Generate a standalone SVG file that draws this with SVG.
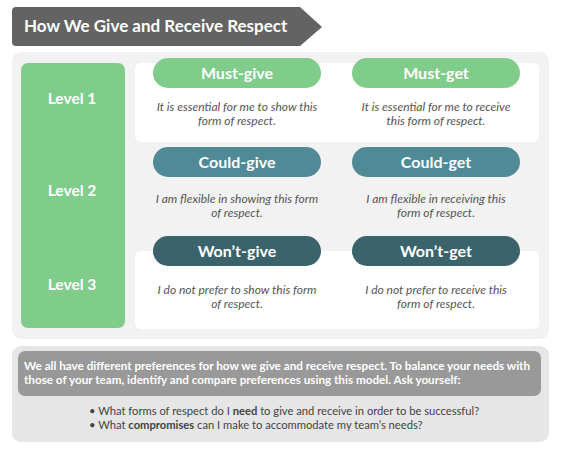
<svg xmlns="http://www.w3.org/2000/svg" width="561" height="449" viewBox="0 0 561 449">
<style>
.lvl{font-family:Lato,"Noto Sans",sans-serif;font-weight:700;font-size:15.5px;fill:#fff;text-anchor:middle}
.pill{font-family:Lato,"Noto Sans",sans-serif;font-weight:700;font-size:16px;fill:#fff;text-anchor:middle}
.desc{font-family:Lato,"Noto Sans",sans-serif;font-style:italic;font-size:12px;fill:#555;text-anchor:middle}
.note{font-family:Lato,"Noto Sans",sans-serif;font-weight:700;font-size:11.7px;fill:#fff}
.bul{font-family:Lato,"Noto Sans",sans-serif;font-size:11.2px;fill:#444}
.must{fill:#80cc8a}
.could{fill:#4f8a96}
.wont{fill:#3b636b}
</style>
<rect width="561" height="449" fill="#fff"/>
<g id="title">
<path d="M16 7 H300 L322 27 L300 46 H16 Q12 46 12 42 V11 Q12 7 16 7 Z" fill="#636363"/>
<text x="24" y="32" font-family="Lato,'Noto Sans',sans-serif" font-weight="700" font-size="17px" fill="#fff">How We Give and Receive Respect</text>
</g>
<g id="main-panel">
<rect x="12" y="52" width="537" height="287" rx="9" fill="#f2f2f2"/>
<rect x="135" y="63" width="404" height="79" rx="6" fill="#fff"/>
<rect x="135" y="251" width="404" height="78" rx="6" fill="#fff"/>
</g>
<g id="levels">
<rect x="21" y="63" width="104" height="265" rx="7" class="must"/>
<text x="72" y="104" class="lvl">Level 1</text>
<text x="72" y="196" class="lvl">Level 2</text>
<text x="72" y="290" class="lvl">Level 3</text>
</g>
<g id="must-give">
<rect x="153" y="58" width="168" height="30" rx="15" class="must"/>
<text x="237" y="79" class="pill">Must-give</text>
<text x="237" y="111" class="desc">It is essential for me to show this</text>
<text x="237" y="125" class="desc">form of respect.</text>
</g>
<g id="must-get">
<rect x="352" y="58" width="168" height="30" rx="15" class="must"/>
<text x="436" y="79" class="pill">Must-get</text>
<text x="436" y="111" class="desc">It is essential for me to receive</text>
<text x="436" y="125" class="desc">this form of respect.</text>
</g>
<g id="could-give">
<rect x="153" y="147" width="168" height="30" rx="15" class="could"/>
<text x="237" y="168" class="pill">Could-give</text>
<text x="237" y="203" class="desc">I am flexible in showing this form</text>
<text x="237" y="217" class="desc">of respect.</text>
</g>
<g id="could-get">
<rect x="352" y="147" width="168" height="30" rx="15" class="could"/>
<text x="436" y="168" class="pill">Could-get</text>
<text x="436" y="203" class="desc">I am flexible in receiving this</text>
<text x="436" y="217" class="desc">form of respect.</text>
</g>
<g id="wont-give">
<rect x="153" y="236" width="168" height="30" rx="15" class="wont"/>
<text x="237" y="257" class="pill">Won’t-give</text>
<text x="237" y="294" class="desc">I do not prefer to show this form</text>
<text x="237" y="308" class="desc">of respect.</text>
</g>
<g id="wont-get">
<rect x="352" y="236" width="168" height="30" rx="15" class="wont"/>
<text x="436" y="257" class="pill">Won’t-get</text>
<text x="436" y="294" class="desc">I do not prefer to receive this</text>
<text x="436" y="308" class="desc">form of respect.</text>
</g>
<g id="note">
<rect x="12" y="346" width="537" height="96" rx="9" fill="#e6e6e6"/>
<rect x="18" y="351" width="523" height="45" rx="7" fill="#999"/>
<text x="24" y="370" class="note">We all have different preferences for how we give and receive respect. To balance your needs with</text>
<text x="24" y="384" class="note">those of your team, identify and compare preferences using this model. Ask yourself:</text>
<text x="89" y="415" class="bul">• What forms of respect do I <tspan font-weight="700">need</tspan> to give and receive in order to be successful?</text>
<text x="89" y="429" class="bul">• What <tspan font-weight="700">compromises</tspan> can I make to accommodate my team’s needs?</text>
</g>
<g id="connectors"/>
</svg>
